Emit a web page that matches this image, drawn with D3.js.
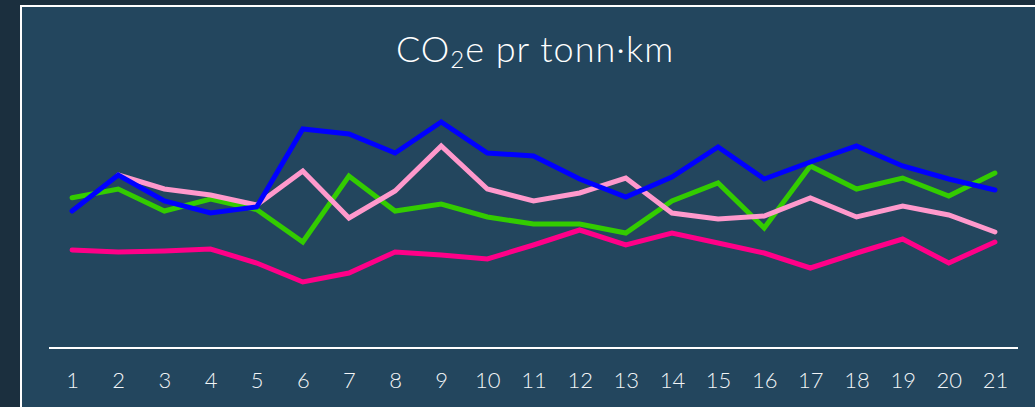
<!DOCTYPE html>
<html>
<head>
<meta charset="utf-8">
<script src="https://cdn.jsdelivr.net/npm/d3@7"></script>
<style>
  html, body { margin: 0; padding: 0; background: #1b2f3e; overflow: hidden; }
  svg { display: block; }
</style>
</head>
<body>
<svg id="chart" width="1035" height="407"></svg>
<script>
const categories = ["1","2","3","4","5","6","7","8","9","10","11","12","13","14","15","16","17","18","19","20","21"];
const seriesMagenta = [38.8, 38.0, 38.4, 39.2, 33.6, 26.0, 29.6, 38.0, 36.8, 35.2, 40.8, 46.8, 40.8, 45.6, 41.6, 37.6, 31.6, 37.6, 43.2, 33.6, 42.0];
const seriesGreen   = [59.7, 63.2, 54.4, 59.2, 55.0, 42.0, 68.4, 54.4, 57.2, 52.0, 49.2, 49.2, 45.6, 58.4, 65.6, 47.6, 72.4, 63.2, 67.6, 60.4, 69.6];
const seriesPink    = [null, 68.8, 63.2, 60.8, 56.8, 70.4, 51.6, 62.4, 80.4, 63.2, 58.4, 61.6, 67.6, 53.6, 51.2, 52.4, 59.6, 52.0, 56.4, 52.8, 46.0];
const seriesBlue    = [54.4, 68.8, 58.4, 53.6, 56.0, 87.2, 85.2, 77.6, 90.0, 77.6, 76.4, 67.2, 60.0, 68.0, 80.0, 67.2, 74.0, 80.4, 72.4, 67.2, 62.8];
const seriesNames   = ["magenta", "green", "pink", "blue"];
const seriesColors  = ["#ff0088", "#33cc00", "#ff99cc", "#0000ff"];

const svg = d3.select("#chart");

// panel
svg.append("rect")
  .attr("x", 21).attr("y", 6)
  .attr("width", 1100).attr("height", 450)
  .attr("fill", "#23465e")
  .attr("stroke", "#ffffff").attr("stroke-width", 2);

// title
const title = svg.append("text")
  .attr("x", 535).attr("y", 62)
  .attr("text-anchor", "middle")
  .attr("fill", "#ffffff")
  .style("font-family", "Lato, 'Open Sans', sans-serif")
  .style("font-weight", 300)
  .style("font-size", "36px")
  .style("letter-spacing", "1px");
title.append("tspan").text("CO");
title.append("tspan").attr("dy", 6).style("font-size", "24px").text("2");
title.append("tspan").attr("dy", -6).text("e pr tonn·km");

const x = d3.scalePoint().domain(categories).range([49, 1018]).padding(0.5);
const y = d3.scaleLinear().domain([0, 100]).range([347, 97]);

const allSeries = [seriesMagenta, seriesGreen, seriesPink, seriesBlue];

const line = d3.line()
  .defined(d => d.v !== null)
  .x(d => x(d.c))
  .y(d => y(d.v));

allSeries.forEach((vals, i) => {
  const data = categories.map((c, j) => ({ c, v: vals[j] }));
  svg.append("path")
    .datum(data)
    .attr("class", "series " + seriesNames[i])
    .attr("fill", "none")
    .attr("stroke", seriesColors[i])
    .attr("stroke-width", 5)
    .attr("stroke-linecap", "round")
    .attr("stroke-linejoin", "miter")
    .attr("d", line);
});

// x axis
const axis = svg.append("g")
  .attr("transform", "translate(0,348)")
  .call(d3.axisBottom(x).tickSize(0).tickSizeOuter(0).tickPadding(24));
axis.select(".domain").remove();
axis.append("line")
  .attr("class", "baseline")
  .attr("x1", x.range()[0]).attr("x2", x.range()[1])
  .attr("y1", 0).attr("y2", 0)
  .attr("stroke", "#ffffff").attr("stroke-width", 2);
axis.selectAll("text")
  .attr("fill", "#f2f5f7")
  .style("font-family", "Lato, 'Open Sans', sans-serif")
  .style("font-weight", 300)
  .style("font-size", "22px");
</script>
</body>
</html>
